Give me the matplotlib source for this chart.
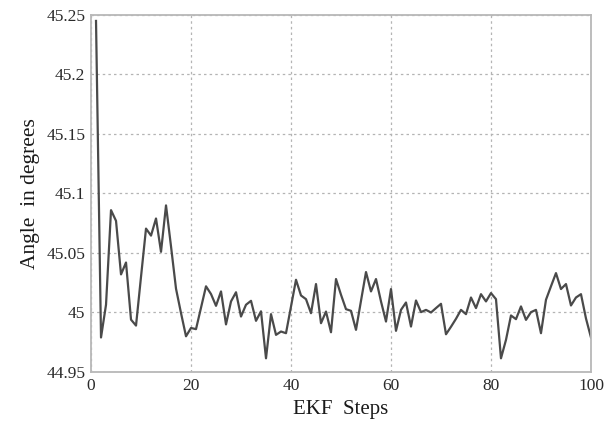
import matplotlib
matplotlib.use("Agg")
import matplotlib.pyplot as plt

steps = list(range(1, 101))
angle = [
    45.245, 44.979, 45.0065, 45.086, 45.077, 45.032, 45.042, 44.994, 44.989, 45.030,
    45.0705, 45.0646, 45.079, 45.051, 45.090, 45.0556, 45.020, 44.9995, 44.980, 44.987,
    44.986, 45.004, 45.022, 45.0155, 45.0056, 45.0177, 44.990, 45.0093, 45.017, 44.9966,
    45.0065, 45.0098, 44.993, 45.001, 44.9615, 44.9986, 44.9812, 44.984, 44.9826, 45.005,
    45.0275, 45.0143, 45.0112, 44.9994, 45.0239, 44.991, 45.0008, 44.9834, 45.0281, 45.0149,
    45.0028, 45.0014, 44.9854, 45.0098, 45.034, 45.0177, 45.0281, 45.0093, 44.9924, 45.0197,
    44.9846, 45.0022, 45.0084, 44.9882, 45.0101, 45.0003, 45.0022, 45.000, 45.0037, 45.0073,
    44.9817, 44.988, 44.9947, 45.0022, 44.9986, 45.0126, 45.0037, 45.0154, 45.0093, 45.0163,
    45.0112, 44.9615, 44.977, 44.9975, 44.9944, 45.0051, 44.9938, 45.0003, 45.0022, 44.9826,
    45.0107, 45.022, 45.0331, 45.0197, 45.0239, 45.0059, 45.0126, 45.0154, 44.995, 44.979,
]
xticks = [0, 20, 40, 60, 80, 100]
yticks = [44.95, 45.0, 45.05, 45.1, 45.15, 45.2, 45.25]
ytick_labels = ["44.95", "45", "45.05", "45.1", "45.15", "45.2", "45.25"]

plt.rcParams['font.family'] = ['Liberation Serif', 'DejaVu Serif']

fig = plt.figure(figsize=(6.08, 4.22), dpi=100)
ax = fig.add_axes([0.1497, 0.1185, 0.8223, 0.846])

ax.plot(steps, angle, color='#4a4a4a', lw=1.6)

ax.set_xlim(0, 100)
ax.set_ylim(44.95, 45.25)
ax.set_xticks(xticks)
ax.set_xticklabels([str(t) for t in xticks])
ax.set_yticks(yticks)
ax.set_yticklabels(ytick_labels)

ax.grid(True, linestyle=(0, (2, 2.5)), color='#b4b4b4', lw=0.9)
ax.set_axisbelow(True)
for s in ax.spines.values():
    s.set_color('#b8b8b8')
    s.set_linewidth(1.3)

ax.tick_params(axis='both', length=0, labelsize=12.5, colors='#2a2a2a', pad=4)
ax.set_xlabel('EKF  Steps', fontsize=15, color='#1a1a1a', labelpad=5)
ax.set_ylabel('Angle  in degrees', fontsize=15.5, color='#1a1a1a', labelpad=5)

fig.savefig('out.png', dpi=100)
